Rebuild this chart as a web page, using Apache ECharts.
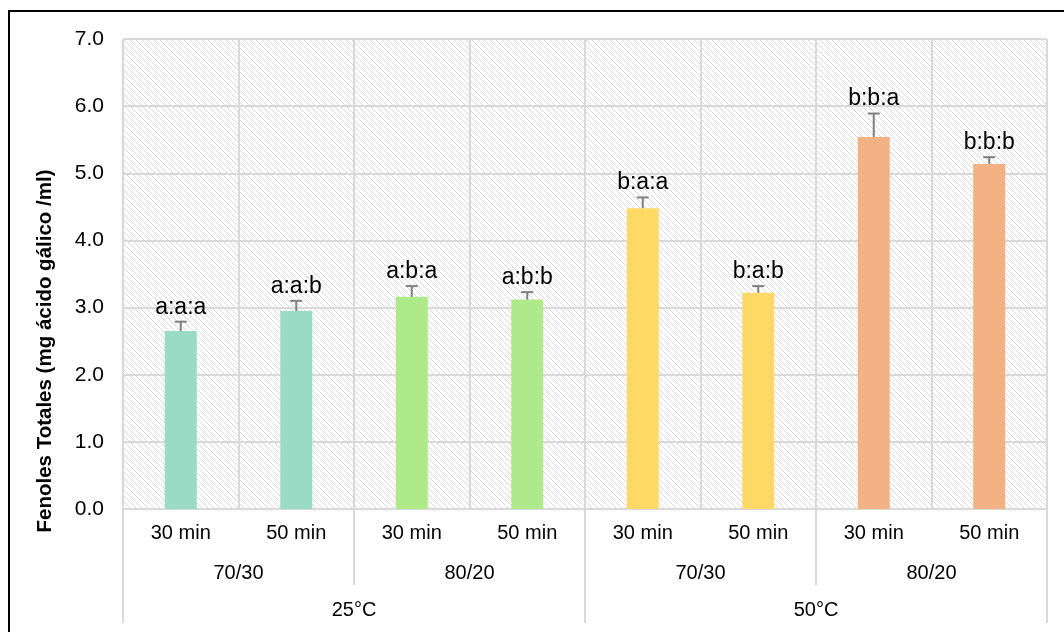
<!DOCTYPE html>
<html>
<head>
<meta charset="utf-8">
<script src="https://cdn.jsdelivr.net/npm/echarts@6/dist/echarts.min.js"></script>
<style>
  html, body { margin: 0; padding: 0; background: #fff; overflow: hidden; }
  #chart { width: 1064px; height: 632px; }
  #frame { position: absolute; left: 8px; top: 10px; width: 1100px; height: 700px;
           border: 2px solid #000; pointer-events: none; }
</style>
</head>
<body>
<div id="chart"></div>
<div id="frame"></div>
<script>
// Tiempo de extracción, proporción etanol/agua y temperatura
const timeLabels = ['30 min', '50 min', '30 min', '50 min', '30 min', '50 min', '30 min', '50 min'];
const ratioLabels = ['70/30', '80/20', '70/30', '80/20'];
const tempLabels = ['25°C', '50°C'];

// Fenoles totales (mg ácido gálico / ml) y desviación estándar
const phenolMeans = [2.65, 2.95, 3.16, 3.12, 4.48, 3.22, 5.54, 5.14];
const phenolErrors = [0.14, 0.15, 0.16, 0.11, 0.16, 0.10, 0.35, 0.10];
const groupLetters = ['a:a:a', 'a:a:b', 'a:b:a', 'a:b:b', 'b:a:a', 'b:a:b', 'b:b:a', 'b:b:b'];

const yTicks = { min: 0, max: 7, step: 1 };
const yTitle = 'Fenoles Totales (mg ácido gálico /ml)';

const barColors = ['#99dbc5', '#99dbc5', '#aeea8a', '#aeea8a', '#ffd966', '#ffd966', '#f4b183', '#f4b183'];
const gridColor = '#d9d9d9';
const fontFamily = 'Liberation Sans, Arial, sans-serif';

// diagonal hatch used as plot background
function makeHatch() {
  const c = document.createElement('canvas');
  const n = 6;
  c.width = n; c.height = n;
  const ctx = c.getContext('2d');
  ctx.fillStyle = '#fff';
  ctx.fillRect(0, 0, n, n);
  ctx.fillStyle = '#dadada';
  for (let i = 0; i < n; i++) ctx.fillRect(i, i, 1, 1);
  return c;
}

const chart = echarts.init(document.getElementById('chart'), null, { renderer: 'canvas' });

const errorData = phenolMeans.map((m, i) => [i, m, phenolErrors[i], groupLetters[i]]);

chart.setOption({
  animation: false,
  grid: {
    left: 123, right: 17, top: 39, bottom: 123,
    show: true, borderWidth: 0,
    backgroundColor: { image: makeHatch(), repeat: 'repeat' }
  },
  // vertical axis title, centred on the full axis block including the category rows
  graphic: [{
    type: 'text', x: 45, y: 351, rotation: Math.PI / 2,
    style: { text: yTitle, fontSize: 20.5, fontWeight: 'bold', fill: '#000', fontFamily,
             align: 'center', verticalAlign: 'middle' }
  }],
  xAxis: [
    {
      type: 'category', data: timeLabels, position: 'bottom',
      axisLine: { show: true, lineStyle: { color: gridColor, width: 2 } },
      axisTick: { show: false },
      axisLabel: { interval: 0, margin: 14, fontSize: 20, color: '#000', fontFamily },
      splitLine: { show: true, interval: 0, lineStyle: { color: gridColor, width: 2 } }
    },
    {
      type: 'category', data: ratioLabels, position: 'bottom',
      axisLine: { show: false },
      axisTick: { show: true, length: 76, interval: 0, lineStyle: { color: gridColor, width: 2 } },
      axisLabel: { interval: 0, margin: 54, fontSize: 20, color: '#000', fontFamily },
      splitLine: { show: false }
    },
    {
      type: 'category', data: tempLabels, position: 'bottom',
      axisLine: { show: false },
      axisTick: { show: true, length: 114, interval: 0, lineStyle: { color: gridColor, width: 2 } },
      axisLabel: { interval: 0, margin: 91, fontSize: 20, color: '#000', fontFamily },
      splitLine: { show: false }
    }
  ],
  yAxis: {
    type: 'value', min: yTicks.min, max: yTicks.max, interval: yTicks.step,
    axisLine: { show: false }, axisTick: { show: false },
    axisLabel: { margin: 19, fontSize: 21, color: '#000', fontFamily,
                 formatter: v => v.toFixed(1) },
    splitLine: { show: true, lineStyle: { color: gridColor, width: 2 } }
  },
  series: [
    {
      type: 'bar', xAxisIndex: 0, barWidth: '27.7%',
      data: phenolMeans.map((v, i) => ({ value: v, itemStyle: { color: barColors[i] } }))
    },
    {
      type: 'custom', xAxisIndex: 0, z: 5,
      data: errorData,
      renderItem: function (params, api) {
        const i = api.value(0);
        const base = api.coord([i, api.value(1)]);
        const top = api.coord([i, api.value(1) + api.value(2)]);
        const cap = 6;
        const stroke = { stroke: '#7f7f7f', lineWidth: 2 };
        return {
          type: 'group',
          children: [
            { type: 'line', shape: { x1: base[0], y1: base[1], x2: top[0], y2: top[1] }, style: stroke },
            { type: 'line', shape: { x1: top[0] - cap, y1: top[1], x2: top[0] + cap, y2: top[1] }, style: stroke },
            { type: 'text', x: top[0], y: top[1] - 3,
              style: { text: errorData[params.dataIndex][3], fontSize: 23, fill: '#000',
                       fontFamily, align: 'center', verticalAlign: 'bottom' } }
          ]
        };
      }
    }
  ]
});
</script>
</body>
</html>
